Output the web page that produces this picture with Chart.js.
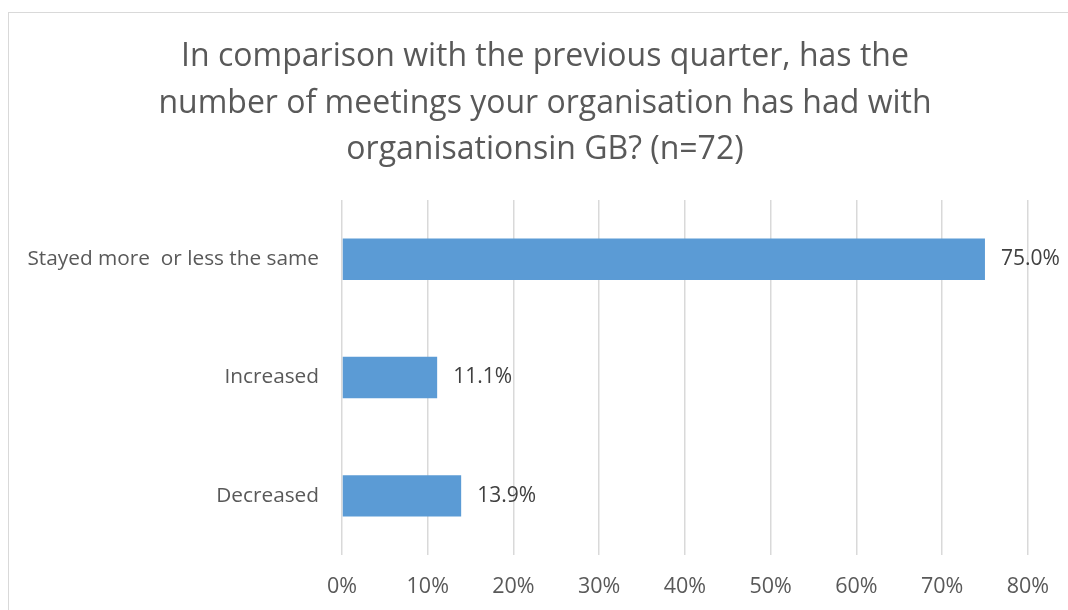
<!DOCTYPE html>
<html lang="en">
<head>
    <meta charset="UTF-8">
    <title>Meetings with organisations in GB</title>
    <style>
        body {
            margin: 0;
            background: #ffffff;
            overflow: hidden;
        }
        #frame {
            position: absolute;
            left: 8px;
            top: 12px;
            width: 1100px;
            height: 700px;
            border: 1px solid #d9d9d9;
        }
        #wrap {
            position: absolute;
            left: 0;
            top: 0;
            width: 1068px;
            height: 610px;
        }
    </style>
</head>
<body>
    <div id="frame"></div>
    <div id="wrap"><canvas id="chart" width="1068" height="610"></canvas></div>

    <script src="https://cdn.jsdelivr.net/npm/chart.js"></script>
    <script>
        // data
        const categories = ['Stayed more  or less the same', 'Increased', 'Decreased'];
        const shares = [75.0, 11.1, 13.9];
        const titleLines = [
            'In comparison with the previous quarter, has the',
            'number of meetings your organisation has had with',
            'organisationsin GB? (n=72)'
        ];

        const FONT = "'Open Sans', sans-serif";

        // value labels at the end of each bar
        const barLabels = {
            id: 'barLabels',
            afterDatasetsDraw(chart) {
                const ctx = chart.ctx;
                const meta = chart.getDatasetMeta(0);
                ctx.save();
                ctx.font = '21px ' + FONT;
                ctx.fillStyle = '#404040';
                ctx.textAlign = 'left';
                ctx.textBaseline = 'middle';
                meta.data.forEach((bar, i) => {
                    ctx.fillText(shares[i].toFixed(1) + '%', bar.x + 16, bar.y);
                });
                ctx.restore();
            }
        };

        // the title sits right of the canvas centre, so it is drawn here
        const offsetTitle = {
            id: 'offsetTitle',
            afterDraw(chart) {
                const ctx = chart.ctx;
                ctx.save();
                ctx.font = '32px ' + FONT;
                ctx.fillStyle = '#595959';
                ctx.textAlign = 'center';
                ctx.textBaseline = 'middle';
                titleLines.forEach((line, i) => {
                    ctx.fillText(line, 545, 57 + i * 46.5);
                });
                ctx.restore();
            }
        };

        new Chart(document.getElementById('chart'), {
            type: 'bar',
            data: {
                labels: categories,
                datasets: [{
                    data: shares,
                    backgroundColor: '#5b9bd5',
                    borderWidth: 0,
                    categoryPercentage: 1,
                    barPercentage: 0.35
                }]
            },
            options: {
                indexAxis: 'y',
                responsive: false,
                animation: false,
                layout: {
                    padding: { left: 0, right: 36, top: 200, bottom: 0 }
                },
                plugins: {
                    legend: { display: false },
                    tooltip: { enabled: false },
                    title: { display: false }
                },
                scales: {
                    x: {
                        min: 0,
                        max: 80,
                        ticks: {
                            stepSize: 10,
                            padding: 19,
                            color: '#595959',
                            font: { family: FONT, size: 21.5 },
                            callback: v => v + '%'
                        },
                        grid: {
                            color: '#d9d9d9',
                            lineWidth: 1.5,
                            drawTicks: false
                        },
                        border: { display: false },
                        afterFit(scale) {
                            scale.height = 55;
                        }
                    },
                    y: {
                        ticks: {
                            padding: 15,
                            color: '#595959',
                            font: { family: FONT, size: 20.8 }
                        },
                        grid: { display: false },
                        border: { display: false },
                        afterFit(scale) {
                            scale.width = 342;
                        }
                    }
                }
            },
            plugins: [barLabels, offsetTitle]
        });
    </script>
</body>
</html>
